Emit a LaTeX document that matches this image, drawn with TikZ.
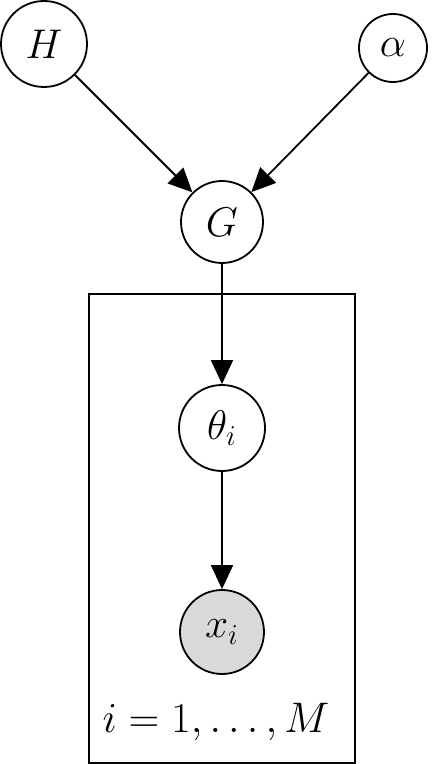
\documentclass[tikz,border=0pt]{standalone}
\usetikzlibrary{arrows.meta}
\begin{document}
\begin{tikzpicture}[x=0.5pt,y=-0.5pt,
  var/.style={circle,draw,line width=0.9pt,inner sep=0pt,font=\huge},
  obs/.style={var,fill=black!15},
  edge/.style={line width=0.9pt,-{Triangle[length=12pt,width=11pt]}},
  plate/.style={draw,line width=0.9pt}]
\useasboundingbox (0,0) rectangle (432,764);
\node[var,minimum size=43pt] (H) at (44,44) {$H$};
\node[var,minimum size=34pt] (a) at (393,48) {$\alpha$};
\node[var,minimum size=41pt] (G) at (222,222) {$G$};
\node[var,minimum size=43pt] (t) at (222,428) {$\theta_i$};
\node[obs,minimum size=42pt] (x) at (222,632) {$x_i$};
\draw[plate] (89,294) rectangle (355,763);
\node[font=\huge,scale=1.03] (lab) at (216,722) {$i = 1, \ldots, M$};
\draw[edge] (H) -- (G);
\draw[edge] (a) -- (G);
\draw[edge] (G) -- (t);
\draw[edge] (t) -- (x);
\end{tikzpicture}
\end{document}
